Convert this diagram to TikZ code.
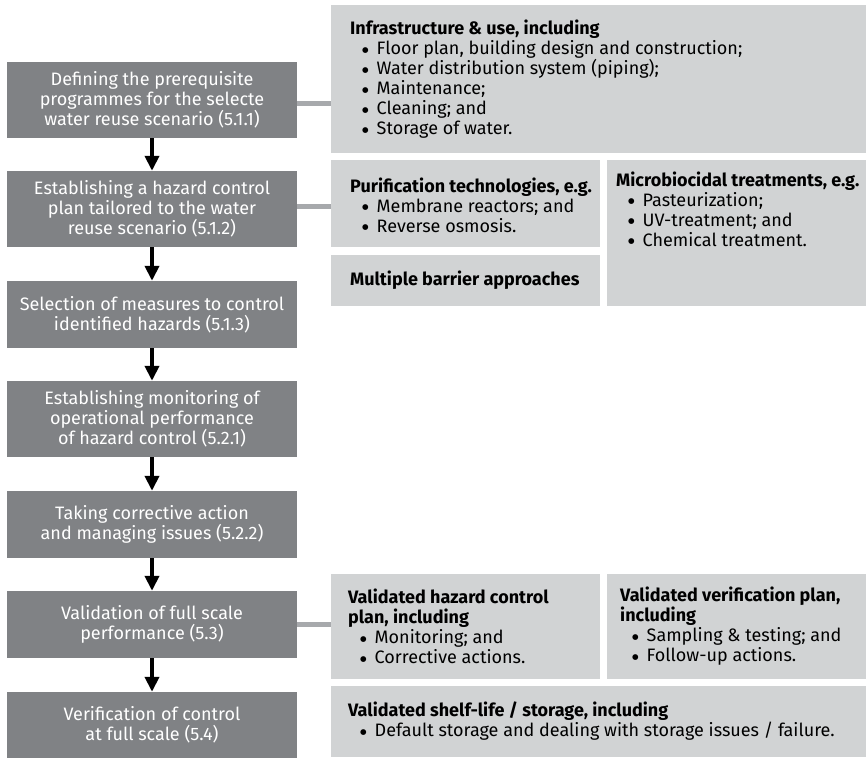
\documentclass[tikz,border=0pt]{standalone}
\usepackage{fontspec}
\setmainfont{Fira Sans}
\newfontfamily\dejavu{DejaVu Sans}
\usetikzlibrary{arrows.meta}
\definecolor{dk}{HTML}{808285}
\definecolor{lt}{HTML}{D1D3D4}
\definecolor{cn}{HTML}{A7A9AC}
\newcommand\bulit{\hspace*{12pt}\makebox[14.5pt][l]{$\vcenter{\hbox{\dejavu\fontsize{7.5}{7.5}\selectfont ●}}$}}
\begin{document}
\begin{tikzpicture}[x=1pt,y=-1pt,
  lbox/.style={fill=dk, text=white, inner sep=0pt, minimum width=290pt, align=center, font=\fontsize{18}{20}\selectfont},
  rbox/.style={fill=lt, inner sep=0pt},
  rtext/.style={inner sep=0pt, align=left, anchor=west, font=\fontsize{18}{20}\selectfont},
  arr/.style={line width=4pt, -{Triangle[width=14pt,length=15pt]}},
  conn/.style={cn, line width=5pt}]
\useasboundingbox (0,0) rectangle (866,757);
% left column
\node[lbox, minimum height=76pt] (b1) at (152,100) {Defining the prerequisite\\programmes for the selecte\\water reuse scenario (5.1.1)};
\node[lbox, minimum height=76pt] (b2) at (152,209) {Establishing a hazard control\\plan tailored to the water\\reuse scenario (5.1.2)};
\node[lbox, minimum height=67pt] (b3) at (152,314.5) {Selection of measures to control\\identified hazards (5.1.3)};
\node[lbox, minimum height=76pt] (b4) at (152,419) {Establishing monitoring of\\operational performance\\of hazard control (5.2.1)};
\node[lbox, minimum height=67pt] (b5) at (152,524.5) {Taking corrective action\\and managing issues (5.2.2)};
\node[lbox, minimum height=67pt] (b6) at (152,624.5) {Validation of full scale\\performance (5.3)};
\node[lbox, minimum height=66pt] (b7) at (152,725) {Verification of control\\at full scale (5.4)};
% right boxes
\node[rbox, minimum width=535pt, minimum height=148pt] (rA) at (598.5,79) {};
\node[rbox, minimum width=269pt, minimum height=87pt] (rB) at (465.5,203.5) {};
\node[rbox, minimum width=259pt, minimum height=146pt] (rC) at (736.5,233) {};
\node[rbox, minimum width=269pt, minimum height=51pt] (rD) at (465.5,280.5) {};
\node[rbox, minimum width=269pt, minimum height=105pt] (rE) at (465.5,626.5) {};
\node[rbox, minimum width=259pt, minimum height=105pt] (rF) at (736.5,626.5) {};
\node[rbox, minimum width=535pt, minimum height=71pt] (rG) at (598.5,721.5) {};
% right texts
\node[rtext] (tA) at (350,79) {\textbf{Infrastructure \& use, including}\\\bulit Floor plan, building design and construction;\\\bulit Water distribution system (piping);\\\bulit Maintenance;\\\bulit Cleaning; and\\\bulit Storage of water.};
\node[rtext] (tB) at (350,205) {\textbf{Purification technologies, e.g.}\\\bulit Membrane reactors; and\\\bulit Reverse osmosis.};
\node[rtext] (tC) at (616,209) {\textbf{Microbiocidal treatments, e.g.}\\\bulit Pasteurization;\\\bulit UV-treatment; and\\\bulit Chemical treatment.};
\node[rtext] (tD) at (350,280.5) {\textbf{Multiple barrier approaches}};
\node[rtext] (tE) at (348,626.5) {\textbf{Validated hazard control}\\\textbf{plan, including}\\\bulit Monitoring; and\\\bulit Corrective actions.};
\node[rtext] (tF) at (620,626.5) {\textbf{Validated verification plan,}\\\textbf{including}\\\bulit Sampling \& testing; and\\\bulit Follow-up actions.};
\node[rtext] (tG) at (348,721.5) {\textbf{Validated shelf-life / storage, including}\\\bulit Default storage and dealing with storage issues / failure.};
% arrows
\draw[arr] (b1.south) -- (b2.north);
\draw[arr] (b2.south) -- (b3.north);
\draw[arr] (b3.south) -- (b4.north);
\draw[arr] (b4.south) -- (b5.north);
\draw[arr] (b5.south) -- (b6.north);
\draw[arr] (b6.south) -- (b7.north);
% connectors
\draw[conn] ([yshift=-4pt]b1.east) -- ([yshift=-4pt]b1.east -| rA.west);
\draw[conn] ([yshift=3pt]b2.east) -- ([yshift=3pt]b2.east -| rB.west);
\draw[conn] (b6.east) -- (b6.east -| rE.west);
\end{tikzpicture}
\end{document}
